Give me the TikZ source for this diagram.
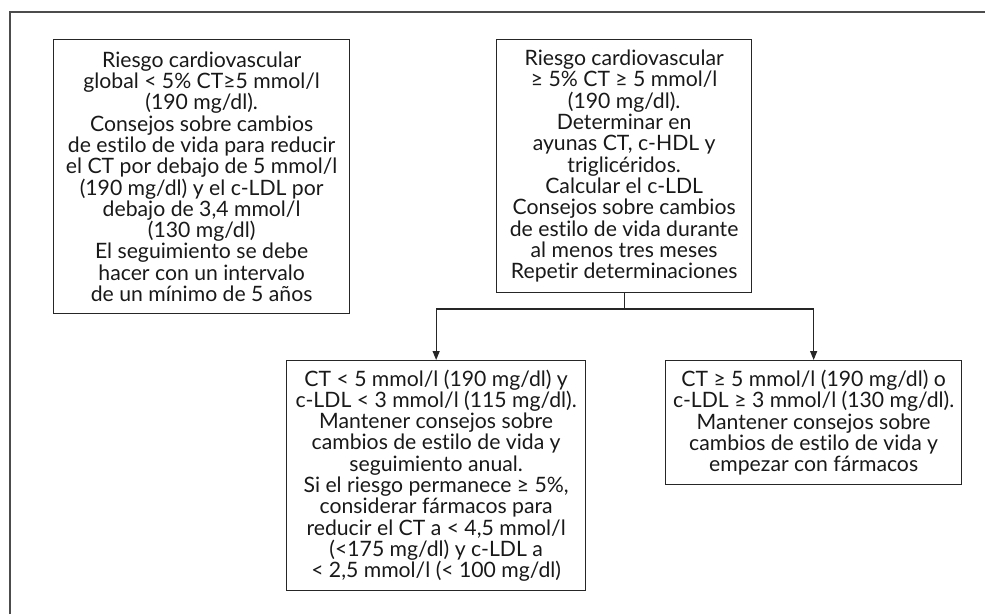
\documentclass[tikz,border=0pt]{standalone}
\usepackage{fontspec}
\setmainfont{Lato}[Ligatures={NoCommon}]
\usetikzlibrary{arrows.meta}
\begin{document}
\begin{tikzpicture}[x=1pt,y=-1pt,
  box/.style={draw=black!85, line width=1.3pt, inner sep=0pt, align=center, anchor=north west,
    font=\fontsize{21.2}{21.3}\selectfont, text=black!90},
  frame/.style={draw=black!70, line width=2pt},
  arr/.style={draw=black!85, line width=1.2pt, -{Triangle[length=9pt,width=7pt]}}]
\useasboundingbox (0,0) rectangle (985,614);
\draw[frame] (10,614) -- (10,12) -- (985,12);
\node[box, minimum width=296pt, minimum height=274pt] (lb) at (53,39) {Riesgo cardiovascular\\global < 5\% CT≥5 mmol/l\\(190 mg/dl).\\Consejos sobre cambios\\de estilo de vida para reducir\\el CT por debajo de 5 mmol/l\\(190 mg/dl) y el c-LDL por\\debajo de 3,4 mmol/l\\(130 mg/dl)\\El seguimiento se debe\\hacer con un intervalo\\de un mínimo de 5 años};
\node[box, minimum width=255pt, minimum height=253pt] (tb) at (496,39) {Riesgo cardiovascular\\≥ 5\% CT ≥ 5 mmol/l\\(190 mg/dl).\\Determinar en\\ayunas CT, c-HDL y\\triglicéridos.\\Calcular el c-LDL\\Consejos sobre cambios\\de estilo de vida durante\\al menos tres meses\\Repetir determinaciones};
\node[box, minimum width=299pt, minimum height=230pt] (bm) at (286,360) {CT < 5 mmol/l (190 mg/dl) y\\c-LDL < 3 mmol/l (115 mg/dl).\\Mantener consejos sobre\\cambios de estilo de vida y\\seguimiento anual.\\Si el riesgo permanece ≥ 5\%,\\considerar fármacos para\\reducir el CT a < 4,5 mmol/l\\(<175 mg/dl) y c-LDL a\\< 2,5 mmol/l (< 100 mg/dl)};
\node[box, minimum width=296pt, minimum height=124pt] (br) at (665,360) {CT ≥ 5 mmol/l (190 mg/dl) o\\c-LDL ≥ 3 mmol/l (130 mg/dl).\\Mantener consejos sobre\\cambios de estilo de vida y\\empezar con fármacos};
\coordinate (jn) at (620,309);
\draw[arr] (tb.south) |- (bm.north |- jn) -- (bm.north);
\draw[arr] (tb.south) |- (br.north |- jn) -- (br.north);
\end{tikzpicture}
\end{document}
